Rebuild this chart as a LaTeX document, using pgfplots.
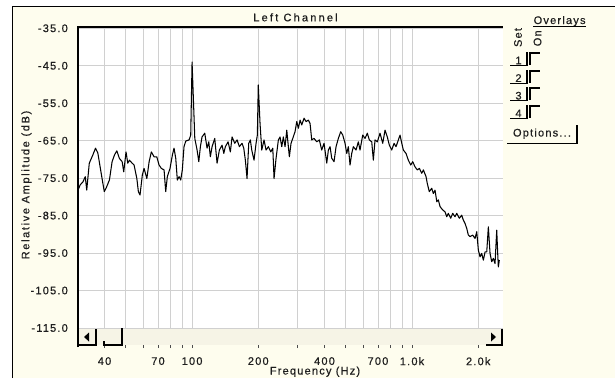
\documentclass[border=0pt]{standalone}
\usepackage{pgfplots}
\pgfplotsset{compat=1.18}
\usepackage{fontspec}
\setmainfont{Liberation Sans}[LetterSpace=11, FakeBold=0.5]
\definecolor{cream}{RGB}{254,253,238}
\definecolor{stripc}{RGB}{246,244,230}
\definecolor{gridc}{RGB}{208,208,208}
\definecolor{txt}{RGB}{30,30,30}
\begin{document}
\begin{tikzpicture}[x=1bp,y=1bp,font=\fontsize{11bp}{13bp}\selectfont, text=txt]
\path[use as bounding box] (0,0) rectangle (615,378);
\fill[white] (0,0) rectangle (615,378);
\fill[cream] (12,0) rectangle (615,371);
\draw[line width=1bp] (12,0) -- (12,371) -- (615,371);
\fill[white] (78,50) rectangle (503,350);
\begin{axis}[
  at={(78bp,33bp)}, anchor=south west,
  scale only axis, width=425bp, height=316.7bp,
  xmode=log, xmin=30.3, xmax=2592, ymin=-119.54, ymax=-35,
  axis line style={draw=none},
  xtick={40,50,60,70,80,90,100,200,300,400,500,600,700,800,900,1000,2000},
  xticklabels={40,,,70,,,100,200,,400,,,700,,,1.0k,2.0k},
  minor x tick num=0,
  ytick={-115,-105,-95,-85,-75,-65,-55,-45,-35},
  yticklabels={-115.0,-105.0,-95.0,-85.0,-75.0,-65.0,-55.0,-45.0,-35.0},
  xmajorgrids, ymajorgrids,
  grid style={gridc, line width=0.8bp},
  xtick pos=left, ytick pos=left,
  tick align=outside,
  major tick length=3bp,
  xtick style={black!70, line width=0.8bp},
  ytick style={draw=none},
  xticklabel style={anchor=north, inner sep=0pt, yshift=-9bp},
  yticklabel style={anchor=east, inner sep=0pt, xshift=-7bp},
]
\addplot[black, line width=1.05bp, line join=round] coordinates {
(30.3,-78.2) (31.0,-76.8) (31.9,-76.0) (32.7,-74.6) (33.2,-78.2) (34.1,-71.0) (35.4,-68.8) (36.4,-67.0) (37.3,-68.3) (38.6,-73.6) (39.9,-78.6) (40.7,-77.6) (42.1,-75.5) (43.3,-70.6) (44.4,-68.8) (45.5,-67.7) (46.7,-69.7) (48.1,-70.6) (48.9,-73.3) (50.1,-68.0) (51.0,-71.0) (51.9,-70.2) (53.4,-71.0) (54.5,-71.5) (56.1,-75.1) (57.0,-78.6) (58.0,-79.5) (59.4,-74.2) (60.5,-72.4) (62.3,-75.1) (63.8,-70.6) (65.3,-68.0) (67.2,-69.3) (69.1,-69.3) (70.8,-71.5) (72.5,-72.4) (74.6,-72.8) (75.9,-78.6) (77.2,-74.6) (79.4,-72.4) (81.4,-68.8) (82.8,-67.0) (84.3,-69.7) (85.7,-75.5) (87.3,-74.6) (88.8,-75.5) (90.3,-72.8) (91.9,-66.6) (93.6,-65.1) (96.9,-64.8) (98.6,-63.5) (100,-44.0) (102.9,-64.4) (105.4,-67.5) (107.3,-70.6) (109.1,-66.6) (111.0,-64.0) (114.2,-63.0) (117.0,-67.0) (119.1,-65.3) (121.1,-69.3) (123.3,-66.6) (126.8,-64.4) (129.9,-71.0) (133.1,-67.5) (136.9,-66.2) (139.4,-68.4) (141.7,-66.6) (145.8,-65.3) (149.3,-68.0) (152.0,-64.0) (156.4,-65.7) (160.2,-64.8) (164.1,-66.6) (168.8,-65.7) (171.8,-67.0) (174.7,-70.2) (177.8,-75.1) (181.0,-65.7) (184.1,-64.8) (186.8,-67.5) (191.3,-70.2) (195.4,-65.7) (198.1,-63.5) (200,-50.1) (203.7,-60.4) (207.4,-67.5) (212.4,-64.8) (217.0,-67.5) (222.3,-66.6) (228.0,-68.0) (232.8,-67.0) (235.9,-75.1) (240.9,-69.7) (246.8,-64.8) (251.2,-64.0) (255.7,-66.6) (260.0,-64.0) (264.7,-66.6) (269.5,-62.2) (274.0,-66.6) (276.9,-69.3) (281.8,-65.7) (286.9,-64.4) (293.9,-62.6) (299.2,-59.9) (304.3,-61.7) (309.8,-59.5) (315.3,-60.8) (323.0,-59.0) (329.8,-59.9) (337.8,-59.5) (343.9,-60.4) (350.0,-64.8) (358.5,-64.4) (368.8,-65.3) (379.0,-64.8) (388.6,-67.5) (398.1,-65.7) (409.6,-71.0) (416.5,-67.5) (424.0,-66.6) (431.5,-69.7) (442.1,-70.6) (451.4,-66.6) (462.4,-64.4) (474.1,-62.6) (484.2,-63.5) (496.0,-65.7) (504.9,-68.4) (513.4,-66.6) (522.6,-71.5) (532.0,-68.4) (541.0,-66.6) (556.5,-67.5) (570.0,-65.3) (580.2,-67.5) (596.9,-63.5) (611.5,-64.4) (626.4,-63.0) (639.6,-64.8) (655.9,-65.3) (667.0,-70.2) (678.9,-64.8) (695.5,-65.3) (715.4,-63.0) (735.9,-65.7) (754.0,-62.2) (772.3,-64.0) (788.6,-66.2) (808.6,-67.5) (828.4,-65.7) (845.9,-66.6) (866.5,-64.8) (882.1,-63.5) (898.0,-65.7) (913.2,-67.5) (939.3,-68.4) (962.1,-70.2) (986.5,-71.5) (1007,-70.6) (1032,-72.0) (1057,-72.8) (1080,-72.4) (1107,-73.7) (1126,-72.8) (1158,-74.6) (1173,-76.4) (1198,-78.6) (1229,-77.7) (1250,-79.1) (1272,-78.2) (1296,-81.3) (1317,-80.8) (1341,-82.6) (1379,-83.5) (1413,-84.0) (1438,-85.3) (1462,-84.4) (1499,-85.7) (1531,-84.4) (1568,-85.3) (1597,-84.4) (1641,-85.7) (1682,-84.9) (1711,-86.2) (1742,-87.1) (1773,-88.4) (1803,-90.2) (1835,-90.6) (1888,-90.2) (1934,-91.1) (1969,-89.3) (2002,-94.2) (2038,-96.0) (2074,-95.1) (2110,-96.9) (2148,-94.7) (2186,-94.7) (2223,-88.0) (2263,-95.1) (2303,-97.3) (2342,-96.4) (2384,-97.8) (2427,-88.9) (2452,-95.1) (2468,-98.7) (2494,-96.9)
};
\end{axis}
% scrollbar strip
\fill[stripc] (78,33) rectangle (503,49.5);
\draw[line width=1.2bp] (78,33) -- (96,33) -- (96,49.5);
\fill (84,41) -- (89,45.5) -- (89,36.5) -- cycle;
\draw[line width=1.2bp] (104,37) -- (104,33) -- (122,33) -- (122,50);
\draw[line width=1.2bp] (486,33) -- (502,33) -- (502,49);
\fill (491,45.5) -- (491,36.5) -- (496,41) -- cycle;
% thick frame of plot
\draw[line width=2bp] (77.5,31) -- (77.5,350.8) -- (503,350.8);
% titles
\node[anchor=base, inner sep=0pt] at (295.5,356.7) {\addfontfeature{LetterSpace=20}Left Channel};
\node[anchor=base, inner sep=0pt] at (315,3.5) {Frequency (Hz)};
\node[rotate=90, inner sep=0pt] at (26.5,193) {\addfontfeature{LetterSpace=15}Relative Amplitude (dB)};
% overlays panel
\node[anchor=base, inner sep=0pt] at (559.6,354) {Overlays};
\draw[line width=0.8bp] (533,352) -- (586,352);
\node[rotate=90, inner sep=0pt] at (518,340.5) {Set};
\node[rotate=90, inner sep=0pt] at (537.5,339.7) {On};
\foreach \b/\n in {312.5/1,294.9/2,277.3/3,259.7/4} {
  \draw[line width=1.2bp] (510,\b) -- (527,\b) -- (527,\b+13.5);
  \node[anchor=base, inner sep=0pt] at (518.5,\b+1.2) {\n};
  \draw[line width=2bp] (529.8,\b+0.5) -- (529.8,\b+12.3) -- (540,\b+12.3);
}
\node[anchor=base, inner sep=0pt] at (542,241.5) {Options...};
\draw[line width=1.2bp] (507,234.7) -- (577,234.7) -- (577,253);
\end{tikzpicture}
\end{document}
